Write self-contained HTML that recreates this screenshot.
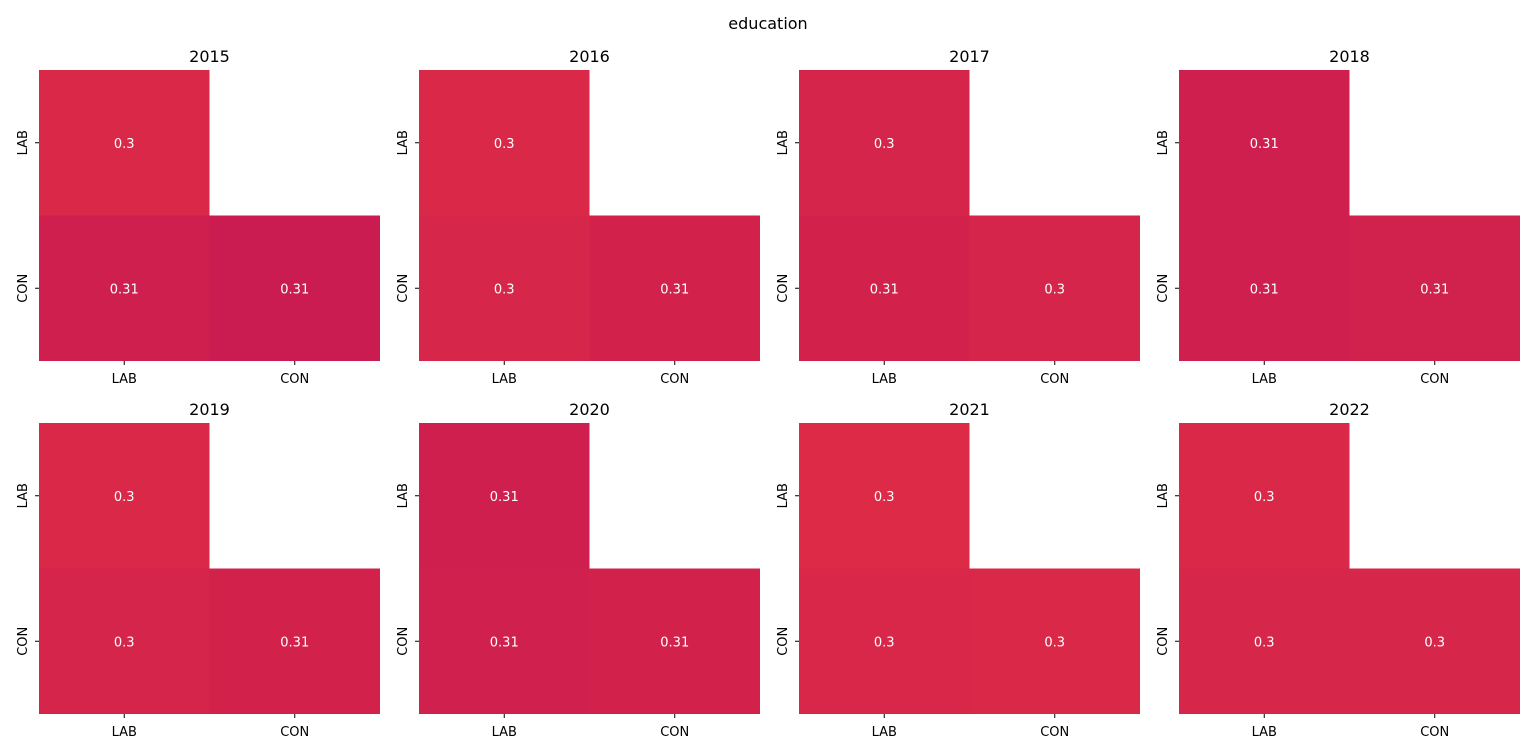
<!DOCTYPE html>
<html><head><meta charset="utf-8">
<style>
html,body{margin:0;padding:0;background:#fff;}
svg{display:block;font-family:"DejaVu Sans","Liberation Sans",sans-serif;}
</style></head>
<body>
<svg id="fig" width="1536" height="754">
<text x="768" y="29" text-anchor="middle" font-size="16" fill="#000">education</text>
</svg>
<script>
const years = ["2015","2016","2017","2018","2019","2020","2021","2022"];
const categories = ["LAB","CON"];
// each panel: [LAB-LAB, CON-LAB, CON-CON]
const valLabLab = [0.301,0.301,0.304,0.309,0.301,0.309,0.299,0.301];
const valConLab = [0.309,0.303,0.306,0.309,0.304,0.308,0.302,0.303];
const valConCon = [0.312,0.306,0.304,0.307,0.306,0.306,0.301,0.303];

const NS="http://www.w3.org/2000/svg";
const svg=document.getElementById('fig');
const panelX=[39,419,799,1179], panelY=[70,423];
const PW=341, PH=291;
function lerp(a,b,t){return Math.round(a+(b-a)*t);}
function color(v){
  let t=(v-0.298)/(0.313-0.298); t=Math.max(0,Math.min(1,t));
  const c0=[221,43,70], c1=[201,27,82];
  return `rgb(${lerp(c0[0],c1[0],t)},${lerp(c0[1],c1[1],t)},${lerp(c0[2],c1[2],t)})`;
}
function fmt(v){return String(parseFloat((Math.round(v*100+1e-9)/100).toFixed(2)));}
function mk(tag,attrs){const e=document.createElementNS(NS,tag);for(const k in attrs)e.setAttribute(k,attrs[k]);return e;}

years.forEach((yr,i)=>{
  const px=panelX[i%4], py=panelY[Math.floor(i/4)];
  const g=mk('g',{});
  
  
  svg.appendChild(g);
  const cw=PW/categories.length, ch=PH/categories.length;
  const xs=c=>px+c*cw, ys=r=>py+r*ch;
  const t=mk('text',{x:px+PW/2,y:py-8,'text-anchor':'middle','font-size':16,fill:'#000'});
  t.textContent=yr;
  
  
  g.appendChild(t);
  const cells=[[0,0,valLabLab[i]],[1,0,valConLab[i]],[1,1,valConCon[i]]];
  cells.forEach(([r,c,v])=>{
    const rect=mk('rect',{x:xs(c),y:ys(r),width:cw,height:ch,fill:color(v)});
    
    
    g.appendChild(rect);
    const lb=mk('text',{x:xs(c)+cw/2,y:ys(r)+ch/2+5,'text-anchor':'middle','font-size':13,fill:'#fff'});
    lb.textContent=fmt(v);
    
    
    g.appendChild(lb);
  });
  categories.forEach((cat,k)=>{
    const cx=xs(k)+cw/2;
    g.appendChild(mk('line',{x1:cx,y1:py+PH,x2:cx,y2:py+PH+4,stroke:'#000','stroke-width':1}));
    const xl=mk('text',{x:cx,y:py+PH+22,'text-anchor':'middle','font-size':13,fill:'#000'});
    xl.textContent=cat;
    
    
    g.appendChild(xl);
    const cy=ys(k)+ch/2;
    g.appendChild(mk('line',{x1:px-4,y1:cy,x2:px,y2:cy,stroke:'#000','stroke-width':1}));
    const yl=mk('text',{x:0,y:0,'text-anchor':'middle','font-size':13,fill:'#000',transform:`translate(${px-12},${cy}) rotate(-90)`});
    yl.textContent=cat;
    
    
    g.appendChild(yl);
  });
});
</script>
</body></html>
